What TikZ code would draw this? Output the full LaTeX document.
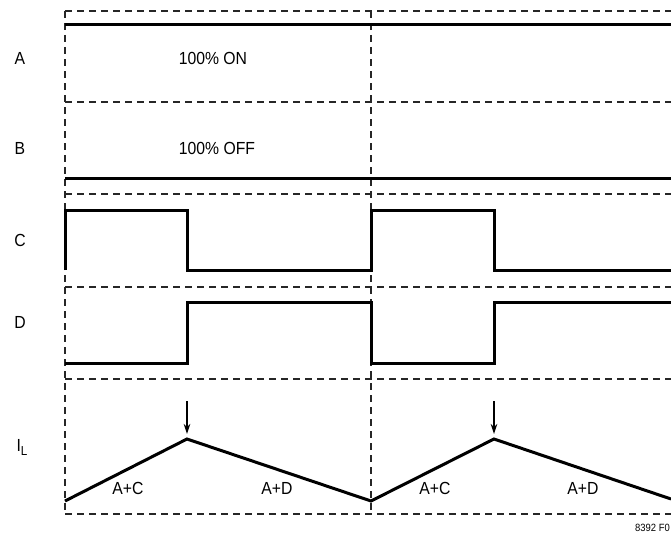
\documentclass[tikz,border=0pt]{standalone}
\usepackage{fontspec}
\setmainfont{Liberation Sans}[FakeStretch=0.9]
\usepackage{tikz}
\usetikzlibrary{arrows.meta}

\tikzset{
    frame/.style={black!85, line width=1.3pt, dash pattern=on 7pt off 5pt},
    signal/.style={black, line width=3pt, line join=miter},
    label/.style={font=\fontsize{17.5}{19}\selectfont, inner sep=0pt},
}

\begin{document}
\begin{tikzpicture}[x=1pt, y=-1pt, >={Stealth[length=10pt, width=6.5pt]}]
\useasboundingbox (0,0) rectangle (671,535);
% frame
\foreach \y in {11,102,194,287,379,514}{
    \draw[frame] (65,\y) -- (671,\y);
}
\foreach \x in {65,371}{
    \draw[frame] (\x,11) -- (\x,514);
}
% A and B
\coordinate (A0) at (65,25);  \coordinate (A1) at (671,25);
\coordinate (B0) at (65,178); \coordinate (B1) at (671,178);
\draw[signal] (A0) -- (A1);
\draw[signal] (B0) -- (B1);
% C
\draw[signal] (65,270) -- (65,210) -- (187,210) -- (187,270) -- (371,270)
    -- (371,210) -- (494,210) -- (494,270) -- (671,270);
% D
\draw[signal] (65,363) -- (187,363) -- (187,302) -- (371,302)
    -- (371,363) -- (494,363) -- (494,302) -- (671,302);
% inductor current
\coordinate (V0) at (65,501);
\coordinate (P1) at (187,439);
\coordinate (V1) at (371,501);
\coordinate (P2) at (494,439);
\coordinate (V2) at (671,499);
\draw[signal] (V0) -- (P1) -- (V1) -- (P2) -- (V2);
\foreach \p in {P1,P2}{
    \draw[->, line width=1.1pt] ([yshift=38pt]\p) -- ([yshift=5pt]\p);
}
% labels
\node[label] (la) at (20,58)  {A};
\node[label] (lb) at (20,148) {B};
\node[label] (lc) at (20,240) {C};
\node[label] (ld) at (20,322) {D};
\node[label] (li) at (22,447) {I\raisebox{-4pt}{\fontsize{13}{14}\selectfont L}};
\node[label] (on)  at (213,58)  {100\% ON};
\node[label] (off) at (217,148) {100\% OFF};
\node[label] (ac1) at (128,488) {A+C};
\node[label] (ad1) at (277,488) {A+D};
\node[label] (ac2) at (435,488) {A+C};
\node[label] (ad2) at (583,488) {A+D};
\node[font=\fontsize{10.5}{12}\selectfont, inner sep=0pt, anchor=east] (fig) at (670,528) {8392 F0};
\end{tikzpicture}
\end{document}
